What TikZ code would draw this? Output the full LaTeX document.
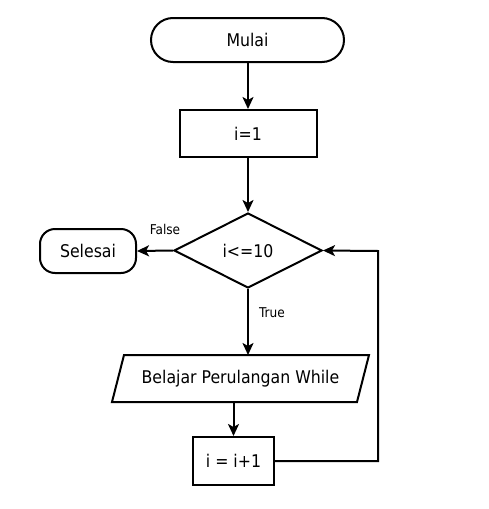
\documentclass[tikz,border=0pt]{standalone}
\usepackage{fontspec}
\setmainfont{DejaVu Sans Condensed}
\usetikzlibrary{shapes.geometric,arrows.meta,calc}
\begin{document}
\begin{tikzpicture}[x=1pt,y=-1pt,
  line width=2pt,
  every node/.style={font=\fontsize{17.5}{20}\selectfont},
  term/.style={draw,rounded corners=22pt,minimum width=193pt,minimum height=44pt,inner sep=0pt},
  endterm/.style={draw,rounded corners=15pt,minimum width=96pt,minimum height=44pt,inner sep=0pt},
  procbox/.style={draw,minimum width=137pt,minimum height=47pt,inner sep=0pt},
  decis/.style={draw,diamond,aspect=1.97,minimum width=148pt,minimum height=75pt,inner sep=0pt},
  iobox/.style={minimum width=243pt,minimum height=45pt,inner sep=0pt},
  lbl/.style={font=\fontsize{13.5}{15}\selectfont},
  arr/.style={-{Stealth[length=12pt,width=11pt,inset=3pt]}}
]
\useasboundingbox (0,0) rectangle (488,509);
\node[term] (mulai) at (247.5,40) {Mulai};
\node[procbox] (i1) at (248,133.5) {i=1};
\node[decis] (cond) at (248,250.5) {i<=10};
\node[endterm] (selesai) at (88,251) {Selesai};
\node[iobox] (par) at (240.5,378.5) {Belajar Perulangan While};
\draw ($(par.south west)+(-6,0)$) -- ($(par.north west)+(6,0)$) -- ($(par.north east)+(6,0)$) -- ($(par.south east)+(-6,0)$) -- cycle;
\node[procbox,minimum width=81pt,minimum height=48pt] (inc) at (233.5,461) {i = i+1};
\coordinate (loop) at (378,251);

\draw[arr] (mulai.south -| i1.north) -- (i1.north);
\draw[arr] (i1.south) -- (cond.north);
\draw[arr] (cond.west) -- (selesai.east);
\draw[arr] (cond.south) -- (cond.south |- par.north);
\draw[arr] (par.south -| inc.north) -- (inc.north);
\draw[arr] (inc.east) -| (loop) -- (cond.east);

\node[lbl] (lfalse) at (165,229) {False};
\node[lbl] (ltrue) at (272,313) {True};
\end{tikzpicture}
\end{document}
